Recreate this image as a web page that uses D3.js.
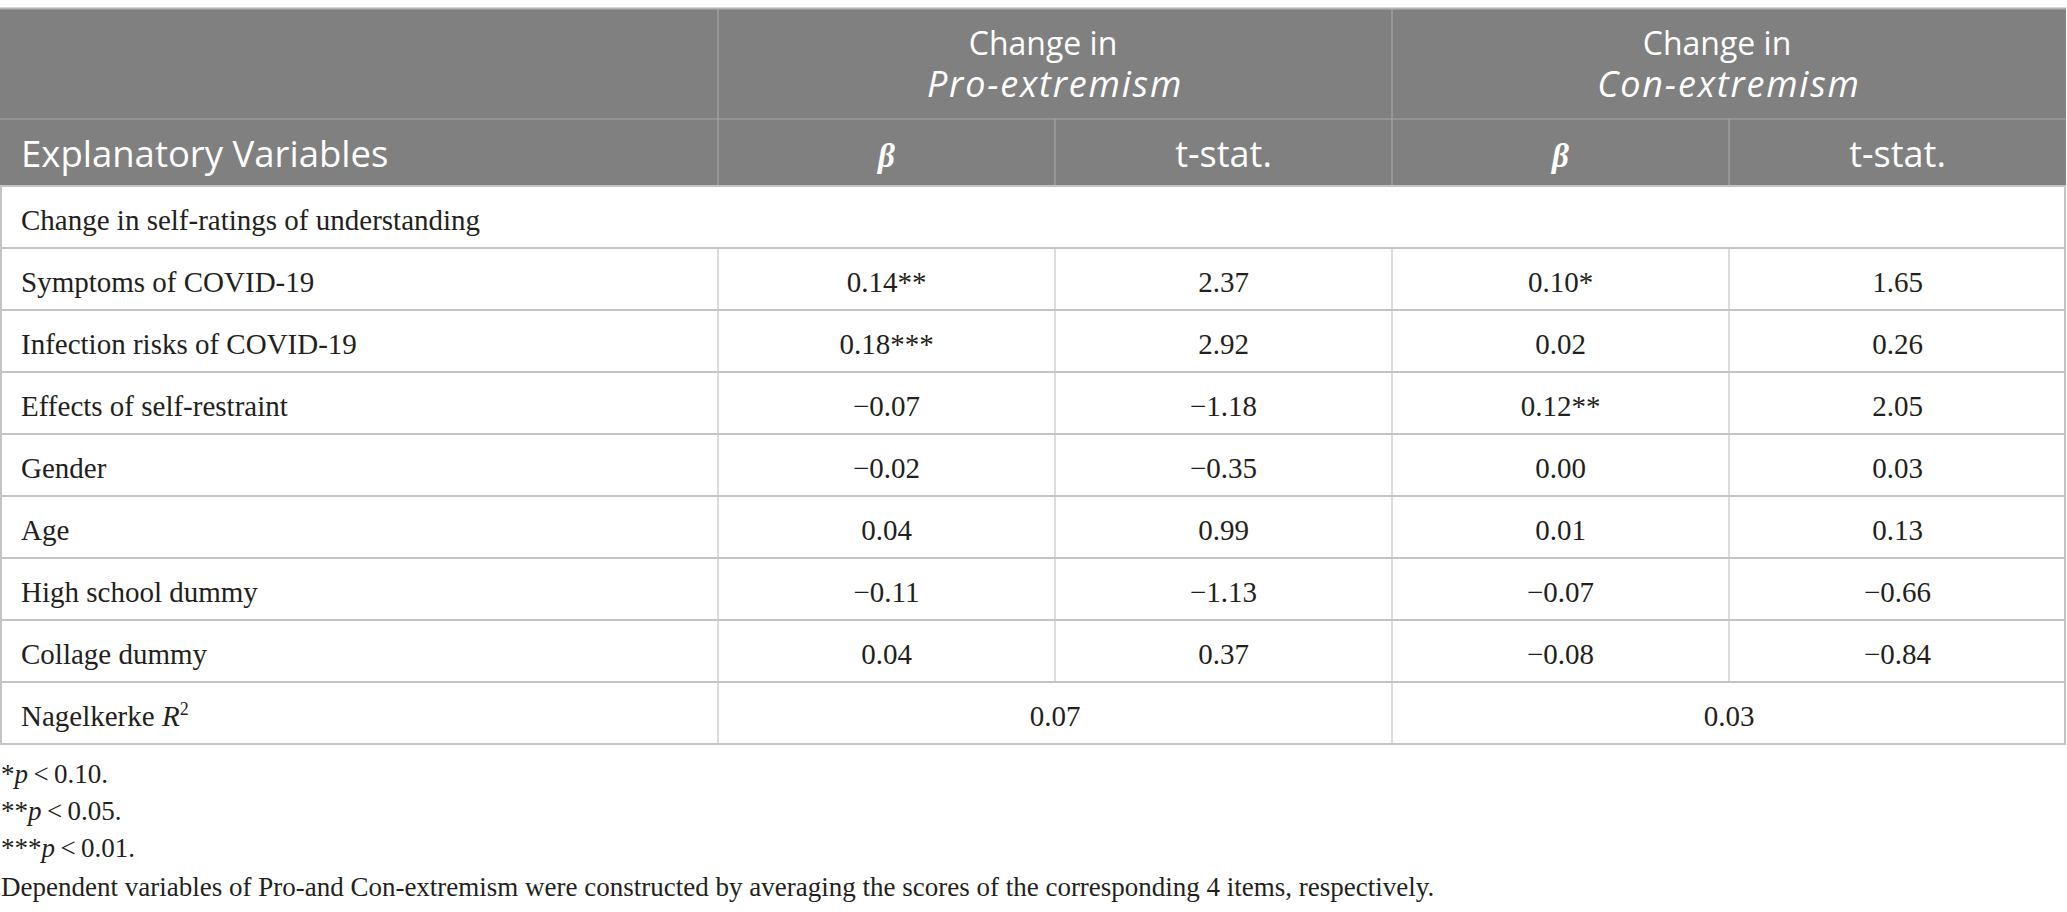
<!DOCTYPE html>
<html>
<head>
<meta charset="utf-8">
<script src="https://cdn.jsdelivr.net/npm/d3@7"></script>
<style>
  body { margin: 0; background: #fff; }
  .hd { font-family: "Open Sans", "Noto Sans", sans-serif; fill: #fff; }
  .bd { font-family: "Liberation Serif", "DejaVu Serif", serif; fill: #231f20; }
</style>
</head>
<body>
<script>
// table values
var rowLabels = ["Symptoms of COVID-19", "Infection risks of COVID-19", "Effects of self-restraint",
  "Gender", "Age", "High school dummy", "Collage dummy"];
var proBeta = [0.14, 0.18, -0.07, -0.02, 0.04, -0.11, 0.04];
var proStars = [2, 3, 0, 0, 0, 0, 0];
var proT = [2.37, 2.92, -1.18, -0.35, 0.99, -1.13, 0.37];
var conBeta = [0.10, 0.02, 0.12, 0.00, 0.01, -0.07, -0.08];
var conStars = [1, 0, 2, 0, 0, 0, 0];
var conT = [1.65, 0.26, 2.05, 0.03, 0.13, -0.66, -0.84];
var r2 = [0.07, 0.03];
var groups = ["Pro-extremism", "Con-extremism"];
var subCols = ["pb", "pt", "cb", "ct"];
var sig = [["*", "0.10"], ["**", "0.05"], ["***", "0.01"]];
var note = "Dependent variables of Pro-and Con-extremism were constructed by averaging the scores of the corresponding 4 items, respectively.";

var W = 2067, H = 912;
var svg = d3.select("body").append("svg").attr("width", W).attr("height", H);

var left = 0, right = 2066, top0 = 9, head1 = 119, head2 = 186, bottom = 744;
var fmt = d3.format(".2f");

// rows: section title, variables, R2
var rowKeys = ["section"].concat(rowLabels, ["r2"]);
var y = d3.scaleBand().domain(rowKeys).range([head2, bottom]);
var x = d3.scaleBand().domain(subCols).range([718, right]);
var gx = d3.scaleBand().domain(groups).range([718, right]);

// header background
svg.append("rect").attr("x", left).attr("y", top0).attr("width", right - left).attr("height", head2 - top0)
  .attr("fill", "#808080");
svg.append("line").attr("x1", left).attr("x2", right).attr("y1", top0 - 0.5).attr("y2", top0 - 0.5)
  .attr("stroke", "#b4b4b4").attr("stroke-width", 2);

var hl = svg.append("g").attr("stroke", "#a6a6a6").attr("stroke-width", 1.2);
hl.append("line").attr("x1", left).attr("x2", right).attr("y1", head1).attr("y2", head1);
hl.append("line").attr("x1", x("pb")).attr("x2", x("pb")).attr("y1", top0).attr("y2", head2);
hl.append("line").attr("x1", x("cb")).attr("x2", x("cb")).attr("y1", top0).attr("y2", head2);
hl.selectAll(".sub").data(["pt", "ct"]).enter().append("line")
  .attr("x1", d => x(d)).attr("x2", d => x(d)).attr("y1", head1).attr("y2", head2);

// header texts
var gh = svg.selectAll(".grp").data(groups).enter().append("text")
  .attr("class", "hd").attr("text-anchor", "middle").style("font-size", "32px");
gh.append("tspan").attr("x", d => gx(d) + gx.bandwidth() / 2 - 12).attr("y", 55).text("Change in");
gh.append("tspan").attr("x", d => gx(d) + gx.bandwidth() / 2).attr("y", 97)
  .style("font-style", "italic").style("font-size", "36px").style("letter-spacing", "1.8px").text(d => d);

svg.append("text").attr("class", "hd").attr("x", 21).attr("y", 167).style("font-size", "36.5px")
  .text("Explanatory Variables");
svg.selectAll(".sh").data(subCols).enter().append("text")
  .attr("class", d => d.slice(1) == "b" ? "bd" : "hd")
  .attr("x", d => x(d) + x.bandwidth() / 2).attr("y", 167).attr("text-anchor", "middle")
  .style("font-size", d => d.slice(1) == "b" ? "33px" : "36px")
  .style("font-style", d => d.slice(1) == "b" ? "italic" : null)
  .style("font-weight", d => d.slice(1) == "b" ? "bold" : null)
  .style("fill", "#fff")
  .text(d => d.slice(1) == "b" ? "\u03b2" : "t-stat.");

// body grid
var grid = svg.append("g").attr("fill", "none");
grid.selectAll(".hr").data(rowKeys.slice(1)).enter().append("line")
  .attr("x1", left).attr("x2", right).attr("y1", d => y(d)).attr("y2", d => y(d))
  .attr("stroke", "#c4c4c4").attr("stroke-width", 2);
grid.append("rect").attr("x", left + 1).attr("y", head2).attr("width", right - left - 2).attr("height", bottom - head2)
  .attr("stroke", "#c4c4c4").attr("stroke-width", 2);
grid.append("line").attr("x1", x("pb")).attr("x2", x("pb")).attr("y1", y(rowLabels[0])).attr("y2", bottom)
  .attr("stroke", "#c4c4c4").attr("stroke-width", 1.2);
grid.append("line").attr("x1", x("cb")).attr("x2", x("cb")).attr("y1", y(rowLabels[0])).attr("y2", bottom)
  .attr("stroke", "#c4c4c4").attr("stroke-width", 1.2);
grid.selectAll(".vr").data(["pt", "ct"]).enter().append("line")
  .attr("x1", d => x(d)).attr("x2", d => x(d)).attr("y1", y(rowLabels[0])).attr("y2", y("r2"))
  .attr("stroke", "#c4c4c4").attr("stroke-width", 1.2);

var base = y.bandwidth() * 0.71;
var fs = "29px";

// body texts
svg.append("text").attr("class", "bd").attr("x", 21).attr("y", y("section") + base).style("font-size", fs)
  .text("Change in self-ratings of understanding");

var rows = rowLabels.map(function(l, i) {
  return {label: l, pb: fmt(proBeta[i]) + "*".repeat(proStars[i]), pt: fmt(proT[i]),
    cb: fmt(conBeta[i]) + "*".repeat(conStars[i]), ct: fmt(conT[i])};
});

var rg = svg.selectAll(".row").data(rows).enter().append("g")
  .attr("transform", d => "translate(0," + (y(d.label) + base) + ")");
rg.append("text").attr("class", "bd").attr("x", 21).style("font-size", fs).text(d => d.label);
subCols.forEach(function(c) {
  rg.append("text").attr("class", "bd").attr("x", x(c) + x.bandwidth() / 2).attr("text-anchor", "middle")
    .style("font-size", fs).text(d => d[c]);
});

var r2t = svg.append("text").attr("class", "bd").attr("x", 21).attr("y", y("r2") + base).style("font-size", fs);
r2t.append("tspan").text("Nagelkerke ");
r2t.append("tspan").style("font-style", "italic").text("R");
r2t.append("tspan").attr("dy", -11).style("font-size", "18px").text("2");
svg.selectAll(".r2v").data(r2).enter().append("text").attr("class", "bd")
  .attr("x", (d, i) => gx(groups[i]) + gx.bandwidth() / 2).attr("y", y("r2") + base)
  .attr("text-anchor", "middle").style("font-size", fs).text(d => fmt(d));

// footnotes
var ffs = "27px";
var ft = svg.selectAll(".fn").data(sig).enter().append("text").attr("class", "bd")
  .attr("x", 1).attr("y", (d, i) => 783 + i * 37).style("font-size", ffs);
ft.append("tspan").text(d => d[0]);
ft.append("tspan").style("font-style", "italic").text("p");
ft.append("tspan").text(d => "\u2009<\u2009" + d[1] + ".");
svg.append("text").attr("class", "bd").attr("x", 1).attr("y", 896).style("font-size", ffs).text(note);
</script>
</body>
</html>
